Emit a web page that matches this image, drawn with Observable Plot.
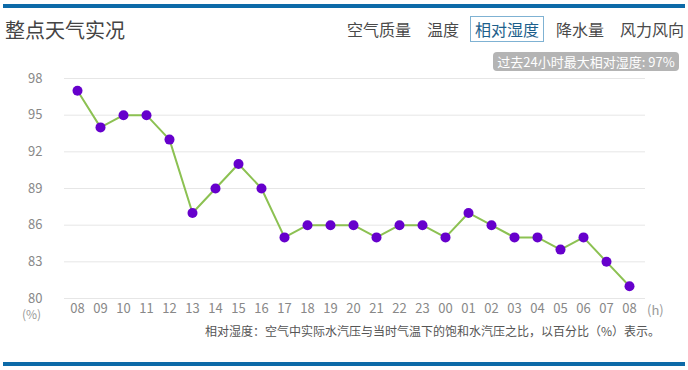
<!DOCTYPE html>
<html><head><meta charset="utf-8">
<script src="https://cdn.jsdelivr.net/npm/d3@7"></script>
<script src="https://cdn.jsdelivr.net/npm/@observablehq/plot@0.6"></script>
<style>
body{margin:0;background:#fff;font-family:"Noto Sans CJK SC","Noto Sans",sans-serif;}
#wrap{position:relative;width:688px;height:370px;overflow:hidden;}
.bar{position:absolute;left:3px;width:682px;height:4px;background:#0d6aa8;}
.title{position:absolute;left:5px;top:16px;font-size:20px;color:#444;line-height:28px;}
.tab{position:absolute;top:17px;font-size:16px;color:#4a4a4a;line-height:24px;}
.tab.active{border:1px solid #7fb2d3;color:#1d5f8c;padding:0 4px;top:16px;}
.badge{position:absolute;left:493px;top:52px;width:186px;height:19px;background:#b4b4b4;border-radius:4px;color:#fff;font-size:13px;line-height:19px;text-align:center;}
.unit{position:absolute;font-size:12px;color:#999;line-height:12px;}
.caption{position:absolute;right:28px;top:322px;font-size:12px;color:#555;}
#chart{position:absolute;left:0;top:60px;}
</style></head>
<body><div id="wrap">
<div class="bar" style="top:4px"></div>
<div class="title">整点天气实况</div>
<div class="tab" style="left:347px">空气质量</div>
<div class="tab" style="left:427px">温度</div>
<div class="tab active" style="left:470px">相对湿度</div>
<div class="tab" style="left:556px">降水量</div>
<div class="tab" style="left:620px">风力风向</div>
<div class="badge">过去24小时最大相对湿度: 97%</div>
<div id="chart"></div>
<div class="unit" style="left:22px;top:308px">(%)</div>
<div class="unit" style="left:647px;top:303px;font-size:13px;line-height:13px">(h)</div>
<div class="caption">相对湿度：空气中实际水汽压与当时气温下的饱和水汽压之比，以百分比（%）表示。</div>
<div class="bar" style="top:362px"></div>
</div>
<script>
const hours = ["08","09","10","11","12","13","14","15","16","17","18","19","20","21","22","23","00","01","02","03","04","05","06","07","08"];
const humidity = [97,94,95,95,93,87,89,91,89,85,86,86,86,85,86,86,85,87,86,85,85,84,85,83,81];
const yTicks = [80,83,86,89,92,95,98];

const data = hours.map((h,i)=>({i, h, v: humidity[i]}));

const chart = Plot.plot({
  width: 688,
  height: 285,
  marginTop: 18,
  marginBottom: 47,
  marginLeft: 64,
  marginRight: 43,
  style: {fontFamily: '"Noto Sans CJK SC","Noto Sans",sans-serif', fontSize: "13px", color: "#888", background: "transparent"},
  x: {type: "point", domain: d3.range(hours.length), padding: 0, insetLeft: 12, insetRight: 15},
  y: {domain: [80, 98]},
  marks: [
    Plot.gridY(yTicks, {stroke: "#e6e6e6", strokeOpacity: 1}),
    Plot.axisY(yTicks, {tickSize: 0, tickPadding: 22, label: null, fill: "#888", fontSize: 13}),
    Plot.axisX(d3.range(hours.length), {tickSize: 0, tickPadding: 5, label: null, tickFormat: i => hours[i], fill: "#888", fontSize: 13}),
    Plot.line(data, {x: "i", y: "v", stroke: "#8cc152", strokeWidth: 2}),
    Plot.dot(data, {x: "i", y: "v", r: 5, fill: "#6600cc", stroke: "none"})
  ]
});
document.getElementById("chart").appendChild(chart);
</script>
</body></html>
